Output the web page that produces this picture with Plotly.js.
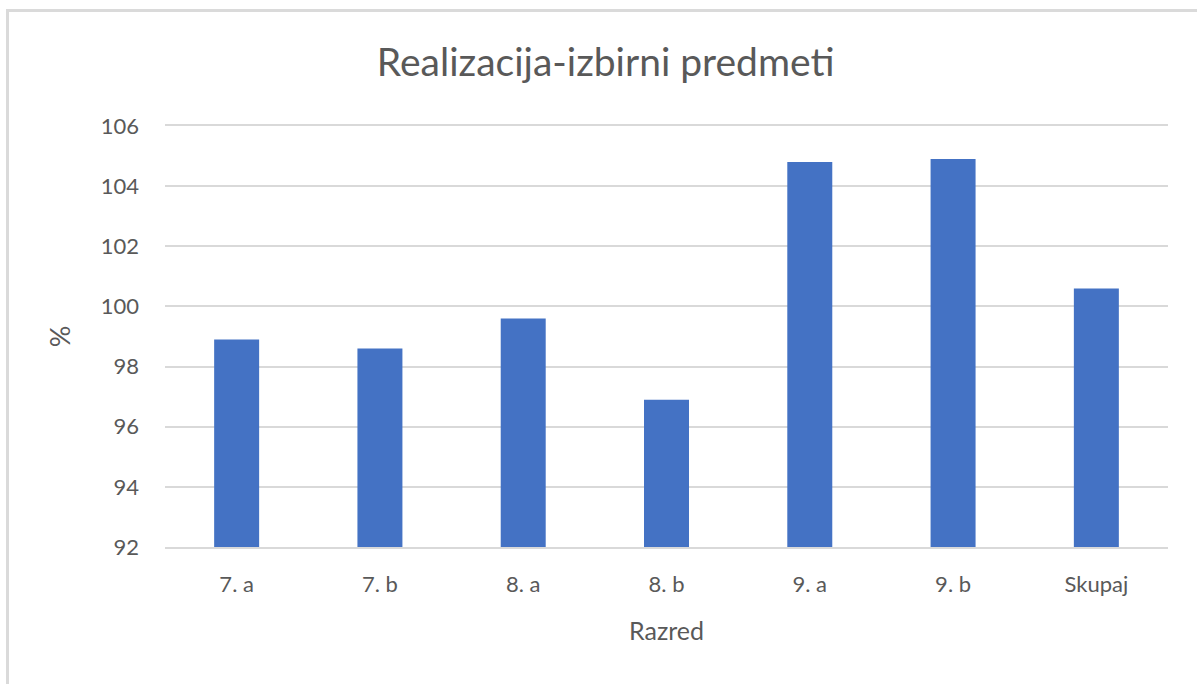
<!DOCTYPE html>
<html>
<head>
<meta charset="utf-8">
<script src="https://cdn.plot.ly/plotly-3.0.1.min.js"></script>
<style>
  html, body { margin: 0; padding: 0; background: #ffffff; }
  #wrap { position: relative; width: 1197px; height: 684px; overflow: hidden; }
  #chart { width: 1197px; height: 684px; }
  #frame { position: absolute; left: 6px; top: 9px; right: -10px; bottom: -10px;
           border-left: 3px solid #dadada; border-top: 3px solid #dadada; pointer-events: none; }
</style>
</head>
<body>
<div id="wrap">
  <div id="chart"></div>
  <div id="frame"></div>
</div>
<script>
const categories = ["7. a", "7. b", "8. a", "8. b", "9. a", "9. b", "Skupaj"];
const values = [98.9, 98.6, 99.6, 96.9, 104.8, 104.9, 100.6];
const yTicks = [92, 94, 96, 98, 100, 102, 104, 106];
const chartTitle = "Realizacija-izbirni predmeti";
const xTitle = "Razred";
const yTitle = "%";

const textColor = "#595959";
const fontFamily = "Lato, 'Open Sans', sans-serif";

const trace = {
  type: "bar",
  x: categories,
  y: values,
  marker: { color: "#4472C4", line: { width: 0 } },
  hoverinfo: "x+y"
};

const layout = {
  width: 1197,
  height: 684,
  paper_bgcolor: "#ffffff",
  plot_bgcolor: "#ffffff",
  margin: { l: 165, r: 29, t: 126, b: 137, pad: 0 },
  bargap: 0.686,
  showlegend: false,
  font: { family: fontFamily, color: textColor },
  title: {
    text: chartTitle,
    font: { family: fontFamily, size: 39, color: textColor },
    xref: "container", x: 0.506, xanchor: "center",
    yref: "container", y: 1 - 62 / 684, yanchor: "middle"
  },
  xaxis: {
    type: "category",
    showgrid: false,
    showline: true,
    mirror: true,
    linecolor: "#d9d9d9",
    linewidth: 2,
    ticks: "",
    tickfont: { family: fontFamily, size: 22, color: textColor },
    ticklabelstandoff: 17,
    title: { text: xTitle, font: { family: fontFamily, size: 25, color: textColor }, standoff: 26 },
    automargin: false,
    fixedrange: true
  },
  yaxis: {
    range: [92, 106],
    tickvals: yTicks,
    ticktext: yTicks.map(String),
    showgrid: true,
    gridcolor: "#d9d9d9",
    gridwidth: 2,
    zeroline: false,
    showline: false,
    ticks: "",
    tickfont: { family: fontFamily, size: 22, color: textColor },
    ticklabelstandoff: 25,
    title: { text: yTitle, font: { family: fontFamily, size: 27, color: textColor }, standoff: 22 },
    automargin: false,
    fixedrange: true
  }
};

Plotly.newPlot("chart", [trace], layout, { displayModeBar: false, staticPlot: true });
</script>
</body>
</html>
